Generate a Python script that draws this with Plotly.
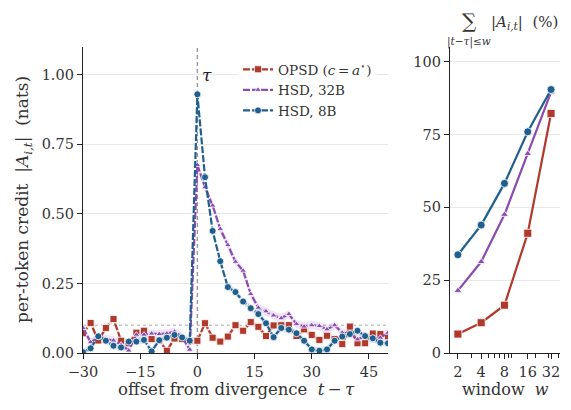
import plotly.graph_objects as go

# ---------------- data: left panel ----------------
offsets = list(range(-30, 52, 2))

opsd_credit = [0.071, 0.108, 0.045, 0.090, 0.122, 0.044, 0.035, 0.073, 0.080, 0.050,
               0.045, 0.008, 0.052, 0.050, 0.044,
               0.044, 0.107, 0.055, 0.041, 0.059, 0.100, 0.080, 0.111, 0.094, 0.061,
               0.099, 0.100, 0.100, 0.061, 0.085, 0.065, 0.047, 0.062, 0.050, 0.032,
               0.095, 0.035, 0.035, 0.070, 0.068, 0.060]

hsd32_credit = [0.090, 0.039, 0.056, 0.050, 0.045, 0.030, 0.009, 0.066, 0.066, 0.070,
                0.068, 0.070, 0.077, 0.058, 0.012,
                0.676, 0.596, 0.530, 0.446, 0.388, 0.328, 0.296, 0.212, 0.163, 0.150,
                0.135, 0.125, 0.140, 0.104, 0.095, 0.100, 0.097, 0.085, 0.100, 0.073,
                0.070, 0.049, 0.060, 0.050, 0.055, 0.073]

hsd8_credit = [0.003, 0.017, 0.060, 0.044, 0.026, 0.020, 0.041, 0.041, 0.047, 0.006,
               0.046, 0.055, 0.065, 0.056, 0.044,
               0.930, 0.632, 0.439, 0.330, 0.237, 0.219, 0.185, 0.161, 0.140, 0.107,
               0.057, 0.090, 0.084, 0.071, 0.044, 0.013, 0.008, 0.013, 0.044, 0.059,
               0.068, 0.080, 0.061, 0.053, 0.037, 0.035]

# ---------------- data: right panel ----------------
windows = [2, 4, 8, 16, 32]
opsd_mass = [6.5, 10.4, 16.4, 41.1, 82.2]
hsd32_mass = [21.4, 31.3, 47.5, 68.4, 89.5]
hsd8_mass = [33.7, 43.9, 58.2, 75.9, 90.4]

left_xticks = [-30, -15, 0, 15, 30, 45]
left_xticktext = ["\u221230", "\u221215", "0", "15", "30", "45"]
left_yticks = [0, 0.25, 0.5, 0.75, 1.0]
right_yticks = [0, 25, 50, 75, 100]

RED = "#b0392b"
PURPLE = "#8a4bb3"
BLUE = "#1f5f8e"
FONT = "DejaVu Serif"
TXT = "#333333"

# page body has an 8px margin; lay out in window pixels
OFF = 8
W, H = 571 - OFF, 410 - OFF


def px(x):
    return (x - OFF) / W


def py(y):
    return 1 - (y - OFF) / H


series = [
    ("OPSD (<i>c</i>\u2009=\u2009<i>a</i><sup>\u22c6</sup>)", opsd_credit, opsd_mass, RED,
     "square", 7, "rgba(176,57,43,0.15)", 0.011),
    ("HSD, 32B", hsd32_credit, hsd32_mass, PURPLE,
     "triangle-up", 6, "rgba(138,75,179,0.15)", 0.015),
    ("HSD, 8B", hsd8_credit, hsd8_mass, BLUE,
     "circle", 7, "rgba(31,95,142,0.13)", 0.013),
]

fig = go.Figure()

for name, yv, mass, col, sym, msize, band, hw in series:
    up = [v + hw for v in yv]
    lo = [max(v - hw, 0) for v in yv]
    fig.add_trace(go.Scatter(
        x=offsets + offsets[::-1], y=up + lo[::-1], fill="toself",
        fillcolor=band, line=dict(width=0), mode="lines",
        hoverinfo="skip", showlegend=False, xaxis="x", yaxis="y"))

for name, yv, mass, col, sym, msize, band, hw in series:
    fig.add_trace(go.Scatter(
        x=offsets, y=yv, mode="lines+markers", name=name,
        line=dict(color=col, width=2.2, dash="7px,2px"),
        marker=dict(symbol=sym, size=msize, color=col,
                    line=dict(color="white", width=0.8)),
        xaxis="x", yaxis="y"))

for name, yv, mass, col, sym, msize, band, hw in series:
    fig.add_trace(go.Scatter(
        x=windows, y=mass, mode="lines+markers", name=name, showlegend=False,
        line=dict(color=col, width=2.2),
        marker=dict(symbol=sym, size=msize + 1, color=col,
                    line=dict(color="white", width=0.8)),
        xaxis="x2", yaxis="y2"))

axis_common = dict(showline=True, linecolor="#222222", linewidth=1.3,
                   ticks="outside", ticklen=5, tickwidth=1.2, tickcolor="#222222",
                   tickfont=dict(family=FONT, size=14.5, color=TXT),
                   zeroline=False, automargin=False)

fig.update_layout(
    width=W, height=H, autosize=False,
    margin=dict(l=0, r=0, t=0, b=0, pad=0),
    paper_bgcolor="white", plot_bgcolor="white",
    font=dict(family=FONT, size=15, color=TXT),
    xaxis=dict(domain=[px(83), px(388)], range=[-30, 50],
               tickvals=left_xticks, ticktext=left_xticktext,
               showgrid=False, anchor="y", **axis_common),
    yaxis=dict(domain=[py(353), py(47)], range=[0, 1.10],
               tickvals=left_yticks, ticktext=["0.00", "0.25", "0.50", "0.75", "1.00"],
               showgrid=True, gridcolor="#e8e8e8", gridwidth=1, anchor="x",
               **axis_common),
    xaxis2=dict(domain=[px(450), px(560)], type="log",
                range=[0.199, 1.621], tickvals=windows,
                ticktext=[str(w) for w in windows],
                minor=dict(tickvals=[3, 5, 6, 7, 9, 10, 20, 30, 40], ticks="outside",
                           ticklen=4, tickwidth=1, tickcolor="#222222", showgrid=False),
                showgrid=False, anchor="y2", **axis_common),
    yaxis2=dict(domain=[py(353), py(47)], range=[0, 105],
                tickvals=right_yticks, showgrid=True, gridcolor="#e8e8e8",
                anchor="x2", **axis_common),
    legend=dict(x=px(238), y=py(54), xanchor="left", yanchor="top",
                bgcolor="rgba(255,255,255,0.8)", borderwidth=0,
                font=dict(family=FONT, size=13.5, color=TXT),
                itemwidth=30, tracegroupgap=0),
    showlegend=True,
)

# divergence marker and baseline
fig.add_shape(type="line", xref="x", yref="y", x0=0, x1=0, y0=0, y1=1.10,
              line=dict(color="#999999", width=1.4, dash="4px,3px"), layer="below")
fig.add_shape(type="line", xref="x", yref="y", x0=-30, x1=50, y0=0.1, y1=0.1,
              line=dict(color="#aaaaaa", width=1, dash="dot"), layer="below")
fig.add_annotation(x=0.8, y=1.0, xref="x", yref="y", text="<i>\u03c4</i>",
                   showarrow=False, xanchor="left", yanchor="middle",
                   font=dict(family=FONT, size=17, color="#222222"))

# axis titles
fig.add_annotation(x=px(236), y=py(389), xref="paper", yref="paper",
                   text="offset from divergence  <i>t</i>\u2009\u2212\u2009<i>\u03c4</i>",
                   showarrow=False, xanchor="center", yanchor="middle",
                   font=dict(family=FONT, size=16.5, color=TXT))
fig.add_annotation(x=px(505), y=py(389), xref="paper", yref="paper",
                   text="window  <i>w</i>",
                   showarrow=False, xanchor="center", yanchor="middle",
                   font=dict(family=FONT, size=16, color=TXT))
fig.add_annotation(x=px(23), y=py(200), xref="paper", yref="paper",
                   text="per-token credit  |<i>A</i><sub><i>i,t</i></sub>|  (nats)",
                   textangle=-90, showarrow=False, xanchor="center", yanchor="middle",
                   font=dict(family=FONT, size=17, color=TXT))

# right panel title
fig.add_annotation(x=px(469), y=py(21), xref="paper", yref="paper",
                   text="\u2211", showarrow=False, xanchor="center", yanchor="middle",
                   font=dict(family=FONT, size=20, color=TXT))
fig.add_annotation(x=px(469), y=py(42), xref="paper", yref="paper",
                   text="|<i>t</i>\u2212<i>\u03c4</i>|\u2264<i>w</i>", showarrow=False,
                   xanchor="center", yanchor="middle",
                   font=dict(family=FONT, size=10.5, color=TXT))
fig.add_annotation(x=px(489), y=py(23), xref="paper", yref="paper",
                   text="|<i>A</i><sub><i>i,t</i></sub>|  (%)", showarrow=False,
                   xanchor="left", yanchor="middle",
                   font=dict(family=FONT, size=15, color=TXT))

fig.write_html("out.html")
